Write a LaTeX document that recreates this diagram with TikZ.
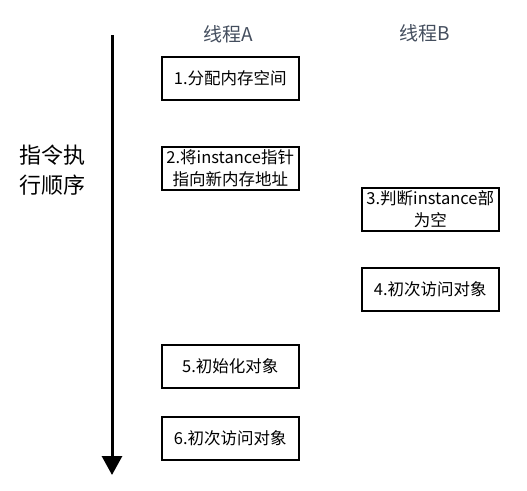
\documentclass[tikz,border=0pt]{standalone}
\usepackage{fontspec}
\setmainfont{Noto Sans CJK SC}
\usetikzlibrary{arrows.meta}
\definecolor{titlegray}{RGB}{68,78,94}
\begin{document}
\begin{tikzpicture}[x=1pt,y=-1pt,
  stepbox/.style={draw=black, line width=1.5pt, minimum width=137pt, minimum height=43pt, inner sep=0pt, align=center, font=\fontsize{16.5}{22}\selectfont, anchor=north west},
  title/.style={font=\fontsize{19}{22}\selectfont, text=titlegray}]
\useasboundingbox (0,0) rectangle (527,490);
\node[title] (ta) at (228,34) {线程A};
\node[title] (tb) at (425,33) {线程B};
\node[font=\fontsize{22}{30}\selectfont, align=left] (lbl) at (52,170) {指令执\\行顺序};
\coordinate (top) at (112,35);
\coordinate (bot) at (112,475);
\draw[line width=3pt, -{Triangle[width=20pt,length=19pt]}] (top) -- (bot);
\node[stepbox] (b1) at (161,56) {1.分配内存空间};
\node[stepbox] (b2) at (161,146) {2.将instance指针\\指向新内存地址};
\node[stepbox] (b3) at (361,187) {3.判断instance部\\为空};
\node[stepbox] (b4) at (361,267) {4.初次访问对象};
\node[stepbox] (b5) at (161,344) {5.初始化对象};
\node[stepbox] (b6) at (161,416) {6.初次访问对象};
\end{tikzpicture}
\end{document}
